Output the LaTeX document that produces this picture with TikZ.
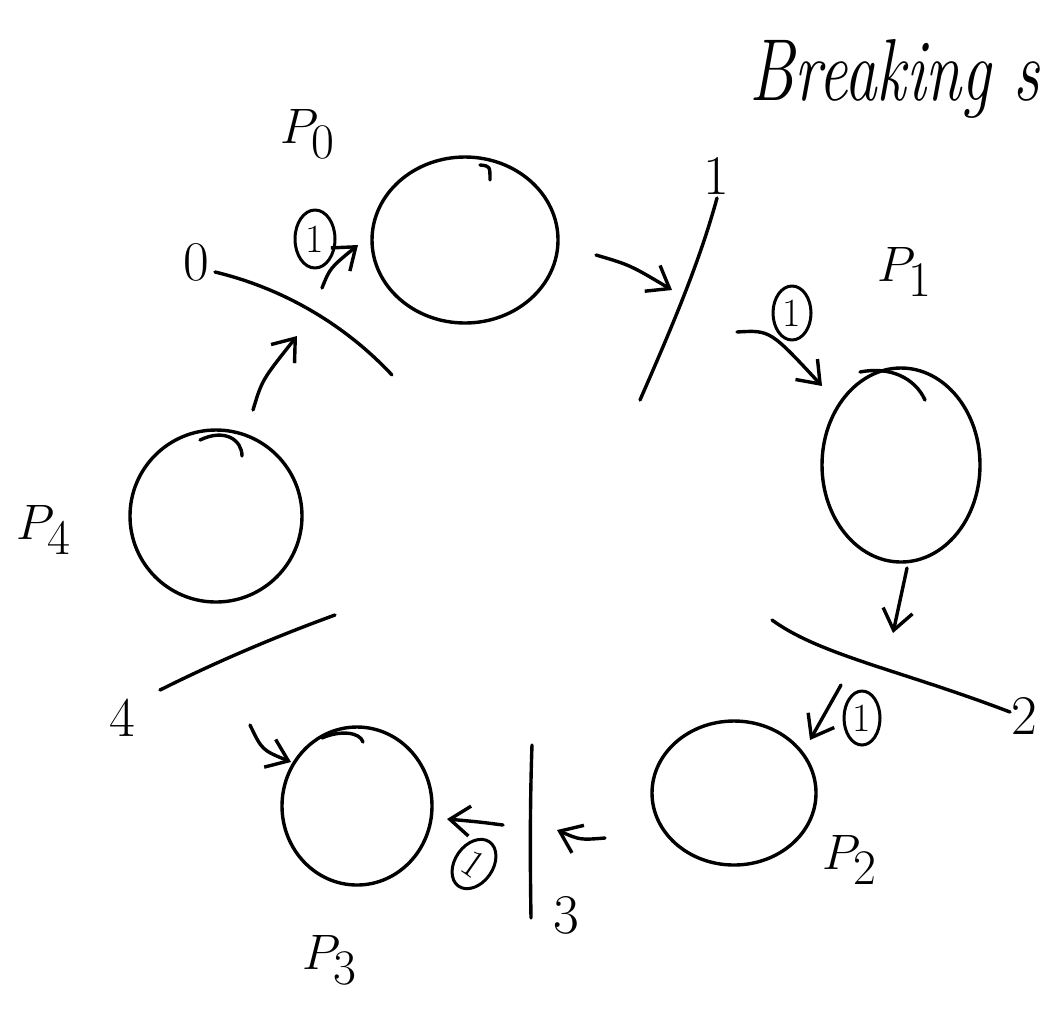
\documentclass[tikz,border=0pt]{standalone}
\usetikzlibrary{shapes.geometric,arrows.meta}
\begin{document}
\begin{tikzpicture}[x=0.5pt,y=-0.5pt, line width=1.7pt, line cap=round, line join=round,
  phil/.style={draw,ellipse,inner sep=0pt,line width=1.7pt},
  fork/.style={line width=1.7pt},
  arr/.style={-{Straight Barb[length=10pt,width=15pt,line width=1.7pt]}},
  lab/.style={font=\fontsize{28}{30}\selectfont, inner sep=0pt},
  plab/.style={font=\fontsize{50}{52}\selectfont, inner sep=0pt},
  one/.style={draw,ellipse,inner sep=0pt,line width=1.5pt,font=\fontsize{20}{22}\selectfont}]
\useasboundingbox (0,0) rectangle (1047,1013);

% philosophers
\node[phil,minimum width=93pt,minimum height=83pt] (p0) at (465,240) {};
\node[phil,minimum width=79pt,minimum height=97pt] (p1) at (901,465) {};
\node[phil,minimum width=82pt,minimum height=72pt] (p2) at (734,793) {};
\node[phil,minimum width=75pt,minimum height=79pt] (p3) at (357,806) {};
\node[phil,minimum width=86pt,minimum height=86pt] (p4) at (216,516) {};

% pen overlap marks
\draw (480,165) .. controls (490,166) .. (490,180);
\draw (200,440) .. controls (225,428) and (242,440) .. (242,456);
\draw (860,372) .. controls (890,366) and (915,378) .. (925,400);
\draw (322,738) .. controls (340,730) and (360,732) .. (363,742);

% labels
\node[plab] (l0) at (308,134) {$P_0$};
\node[plab] (l1) at (905,272) {$P_1$};
\node[plab] (l2) at (850,860) {$P_2$};
\node[plab] (l3) at (330,960) {$P_3$};
\node[plab] (l4) at (44,530) {$P_4$};
\node[inner sep=0pt, anchor=base west, font=\fontsize{44}{46}\selectfont\itshape] (title) at (748,100) {\scalebox{0.74}[1]{Breaking s}};

% forks
\draw[fork] (215,272) .. controls (290,290) and (350,330) .. (392,375);
\draw[fork] (640,400) .. controls (675,320) and (700,260) .. (717,198);
\draw[fork] (772,620) .. controls (820,655) and (900,670) .. (1010,712);
\draw[fork] (532,745) .. controls (530,800) and (530,860) .. (531,918);
\draw[fork] (160,690) .. controls (220,660) and (280,635) .. (335,615);

\node[lab] (f0) at (196,262) {0};
\node[lab] (f1) at (716,176) {1};
\node[lab] (f2) at (1024,716) {2};
\node[lab] (f3) at (566,915) {3};
\node[lab] (f4) at (122,718) {4};

% circled ones
\node[one,minimum width=20pt,minimum height=29pt] (o0) at (315,239) {1};
\node[one,minimum width=19pt,minimum height=27pt] (o1) at (792,313) {1};
\node[one,minimum width=18pt,minimum height=27pt] (o2) at (862,718) {1};
\node[one,minimum width=19pt,minimum height=27pt,rotate=-35] (o3) at (474,864) {1};

% arrows
\coordinate (a0s) at (253,410); \coordinate (a0e) at (297,336);
\coordinate (a1s) at (322,288); \coordinate (a1e) at (358,245);
\coordinate (a2s) at (596,255); \coordinate (a2e) at (672,290);
\coordinate (a3s) at (737,332); \coordinate (a3e) at (822,386);
\coordinate (a4s) at (907,568); \coordinate (a4e) at (893,633);
\coordinate (a5s) at (841,685); \coordinate (a5e) at (810,740);
\coordinate (a6s) at (605,838); \coordinate (a6e) at (557,830);
\coordinate (a7s) at (503,825); \coordinate (a7e) at (447,819);
\coordinate (a8s) at (250,725); \coordinate (a8e) at (291,762);

\draw[arr] (a0s) .. controls (262,380) .. (a0e);
\draw[arr] (a1s) .. controls (330,268) .. (a1e);
\draw[arr] (a2s) .. controls (630,265) .. (a2e);
\draw[arr] (a3s) .. controls (770,330) .. (a3e);
\draw[arr] (a4s) -- (a4e);
\draw[arr] (a5s) -- (a5e);
\draw[arr] (a6s) .. controls (580,840) .. (a6e);
\draw[arr] (a7s) .. controls (480,822) .. (a7e);
\draw[arr] (a8s) .. controls (262,750) .. (a8e);
\end{tikzpicture}
\end{document}
